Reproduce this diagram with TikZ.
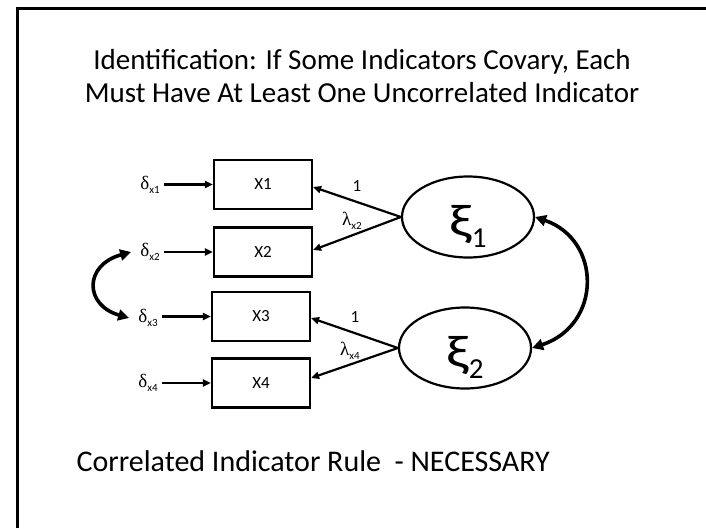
\documentclass[tikz,border=0pt]{standalone}
\usepackage{fontspec}
\setmainfont{Carlito}
\newfontfamily\grk{Liberation Serif}
\usetikzlibrary{arrows.meta,shapes.geometric}

% error term label: Greek letter with a small lowered index
\newcommand{\errlab}[2]{{\grk\fontsize{19}{21}\selectfont #1}\raisebox{-4pt}{\fontsize{11}{13}\selectfont #2}}
% factor label: large xi with a lowered index, set below the node centre
\newcommand{\factlab}[1]{\raisebox{-19pt}[0pt][0pt]{\scalebox{1.3}[1]{\fontsize{46}{48}\selectfont ξ}\raisebox{-11pt}{\fontsize{29}{31}\selectfont #1}}}

\begin{document}
\begin{tikzpicture}[x=1pt,y=-1pt,
  frame/.style={line width=3pt},
  obs/.style={draw, line width=2.2pt, minimum width=98pt, minimum height=49pt,
    inner sep=0pt, font=\fontsize{17}{19}\selectfont},
  lat/.style={draw, ellipse, line width=2.2pt, minimum width=132pt,
    minimum height=81pt, inner sep=0pt},
  errnode/.style={inner sep=4pt},
  coef/.style={inner sep=1pt, font=\fontsize{17}{19}\selectfont},
  path/.style={line width=2.2pt, -{Triangle[length=8pt,width=7pt]}},
  cov/.style={line width=3.6pt,
    {Triangle[length=11pt,width=11pt]}-{Triangle[length=11pt,width=11pt]}},
]
\useasboundingbox (0,0) rectangle (706,528);
\draw[frame] (17,528) -- (17,8) -- (706,8);

% heading
\node[align=center, font=\fontsize{29}{33}\selectfont] (title) at (362,76)
  {Identification: If Some Indicators Covary, Each\\
   Must Have At Least One Uncorrelated Indicator};

% observed indicators
\node[obs] (x1) at (263,184.5) {X1};
\node[obs] (x2) at (263,252) {X2};
\node[obs] (x3) at (261,316.5) {X3};
\node[obs] (x4) at (261,383) {X4};

% measurement errors
\node[errnode] (d1) at (150,185) {\errlab{δ}{x1}};
\node[errnode] (d2) at (150,252) {\errlab{δ}{x2}};
\node[errnode] (d3) at (148,318) {\errlab{δ}{x3}};
\node[errnode] (d4) at (148,383) {\errlab{δ}{x4}};

\draw[path] (d1.east |- x1.west) -- (x1.west);
\draw[path] (d2.east |- x2.west) -- (x2.west);
\draw[path] (d3.east |- x3.west) -- (x3.west);
\draw[path] (d4.east |- x4.west) -- (x4.west);

% latent factors
\node[lat] (xi1) at (468,217) {\factlab{1}};
\node[lat] (xi2) at (465,348) {\factlab{2}};

% loadings
\draw[path] (xi1.west) -- ([yshift=-2.5pt]x1.east);
\draw[path] (xi1.west) -- ([yshift=2pt]x2.east);
\draw[path] (xi2.west) -- ([yshift=-1.5pt]x3.east);
\draw[path] (xi2.west) -- ([yshift=5pt]x4.east);

\node[coef] (l1) at (357,186) {1};
\node[coef] (l2) at (352,221) {\errlab{λ}{x2}};
\node[coef] (l3) at (355,317) {1};
\node[coef] (l4) at (350,351) {\errlab{λ}{x4}};

% covariances
\draw[cov] (xi1.east) .. controls (602,240) and (602,325) .. (xi2.east);
\draw[cov] ([xshift=-5pt]d2.west) .. controls (84,265) and (84,305) .. ([xshift=-5pt]d3.west);

% footer
\node[anchor=west, font=\fontsize{30}{34}\selectfont] (rule) at (73,461)
  {Correlated Indicator Rule\ \ - NECESSARY};
\end{tikzpicture}
\end{document}
